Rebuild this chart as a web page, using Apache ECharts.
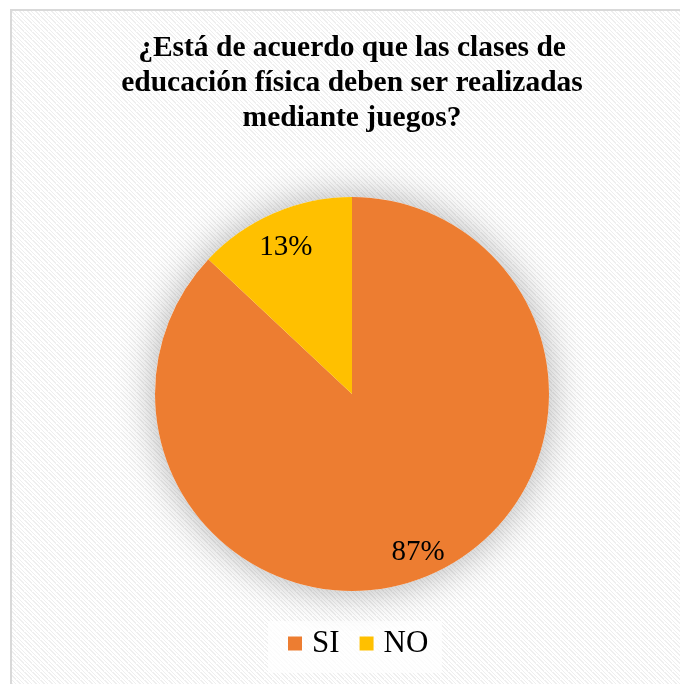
<!DOCTYPE html>
<html>
<head>
<meta charset="utf-8">
<script src="https://cdn.jsdelivr.net/npm/echarts@6/dist/echarts.min.js"></script>
<style>
  html, body { margin: 0; padding: 0; background: #ffffff; }
  #chart { width: 680px; height: 684px; }
</style>
</head>
<body>
<div id="chart"></div>
<script>
// Survey answers and their shares (percent)
const categories = ['SI', 'NO'];
const shares = [87, 13];
const sliceColors = ['#ED7D31', '#FFC000'];
const titleText = '¿Está de acuerdo que las clases de\neducación física deben ser realizadas\nmediante juegos?';

// Light diagonal hatch used as the chart area fill
function makeHatch() {
  const c = document.createElement('canvas');
  c.width = 8; c.height = 8;
  const g = c.getContext('2d');
  g.fillStyle = '#ffffff';
  g.fillRect(0, 0, 8, 8);
  g.fillStyle = '#efefef';
  for (let i = 0; i < 8; i++) {
    g.fillRect(i, i, 2, 1);
    g.fillRect((i + 4) % 8, i, 1, 1);
  }
  return c;
}

const font = '"Liberation Serif", "Times New Roman", serif';
const center = [352, 394];
const radius = 197;
const pieData = categories.map((name, i) => ({
  name, value: shares[i], itemStyle: { color: sliceColors[i] }
}));

const chart = echarts.init(document.getElementById('chart'), null, { renderer: 'canvas' });
chart.setOption({
  backgroundColor: '#ffffff',
  animation: false,
  graphic: [
    {
      type: 'rect', z: -10, silent: true,
      shape: { x: 11, y: 10, width: 720, height: 720 },
      style: { fill: { image: makeHatch(), repeat: 'repeat' }, stroke: '#d9d9d9', lineWidth: 2 }
    },
    {
      type: 'rect', z: -5, silent: true,
      shape: { x: 268, y: 621, width: 174, height: 52 },
      style: { fill: 'rgba(255,255,255,0.75)' }
    }
  ],
  title: {
    text: titleText,
    left: 352,
    textAlign: 'center',
    top: 26,
    padding: [5, 0, 5, 0],
    textStyle: {
      fontFamily: font, fontSize: 29.5, fontWeight: 'bold', color: '#000000', lineHeight: 35
    }
  },
  legend: {
    bottom: 20,
    left: 288,
    padding: [5, 0, 5, 0],
    itemWidth: 14, itemHeight: 14, itemGap: 20,
    icon: 'rect',
    data: categories,
    textStyle: { fontFamily: font, fontSize: 31, color: '#000000', padding: [0, 0, 0, 5] }
  },
  series: [
    {
      // soft shadow behind the disc
      type: 'pie', silent: true, center, radius: [0, radius],
      z: 1, label: { show: false }, labelLine: { show: false },
      legendHoverLink: false,
      data: [{ value: 1, name: '', itemStyle: { color: '#ffffff', shadowBlur: 38, shadowColor: 'rgba(0,0,0,0.3)', shadowOffsetX: 0, shadowOffsetY: 0 } }]
    },
    {
      type: 'pie', center, radius: [0, radius], z: 2,
      startAngle: 90, clockwise: true,
      label: { show: false }, labelLine: { show: false },
      itemStyle: { borderWidth: 0 },
      data: pieData
    },
    {
      // transparent ring used only to place the percent labels
      type: 'pie', center, radius: [radius * 0.66, radius], z: 3, silent: true,
      startAngle: 90, clockwise: true,
      itemStyle: { color: 'rgba(0,0,0,0)' },
      label: {
        show: true, position: 'inside',
        formatter: p => p.value + '%',
        fontFamily: font, fontSize: 29, color: '#000000'
      },
      labelLayout: { dy: 6 },
      labelLine: { show: false },
      data: categories.map((name, i) => ({ name: name + ' ', value: shares[i] }))
    }
  ]
});
</script>
</body>
</html>
